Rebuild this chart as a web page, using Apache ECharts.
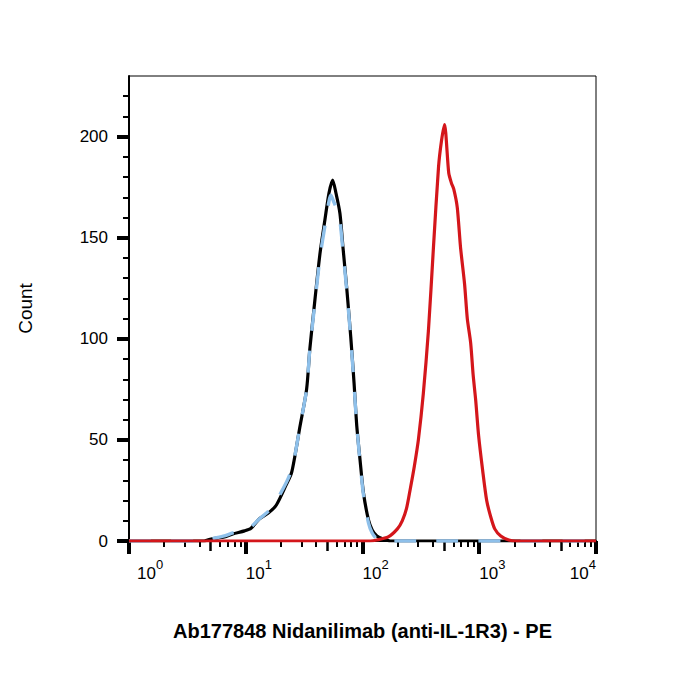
<!DOCTYPE html>
<html><head><meta charset="utf-8">
<script src="https://cdn.jsdelivr.net/npm/echarts@6/dist/echarts.min.js"></script>
<style>html,body{margin:0;padding:0;background:#fff}#c{width:700px;height:700px}</style>
</head><body><div id="c"></div>
<script>
// Isotype / unstained control (black solid)
const blackX = [1, 4.4, 5.05, 6.57, 7.74, 9.77, 11.1, 13.1, 15.5, 18.3, 22.3, 24.6, 26.3, 29.0, 33.2, 35.4, 37.8, 43.2, 47.7, 51.6, 55.5, 59.3, 64.1, 68.1, 73.3, 79.3, 84.7, 89.3, 95.3, 101.8, 112.5, 121, 132.8, 150.4, 173, 10000];
const blackY = [0, 0, 1, 2, 3.5, 5, 6.3, 11, 13.7, 17.8, 28, 33.5, 41.7, 56, 75, 95, 111, 142, 159, 172, 178.5, 172, 162, 145, 125, 101, 78, 57, 40, 24, 10.4, 5.5, 2.5, 1, 0, 0];
// Second control (light blue dashed)
const blueX = [1, 4.4, 5.05, 6.57, 7.74, 9.77, 11.1, 13.1, 15.5, 18.3, 22.3, 24.6, 26.3, 29.0, 33.2, 35.4, 37.8, 43.2, 47.7, 51.6, 53.5, 56.5, 59.3, 64.1, 68.1, 73.3, 79.3, 84.7, 89.3, 95.3, 101.8, 112.5, 121, 132.8, 150.4, 10000];
const blueY = [0, 0, 1, 2.5, 4, 5.5, 7, 11, 14.5, 20, 29, 35, 42, 56, 75, 95, 110, 140, 156, 168, 171, 168, 165, 158, 143, 124, 100, 77, 57, 39, 23, 9, 4, 1, 0, 0];
// Nidanilimab stained (red)
const redX = [1, 116, 133, 166, 199, 219, 238, 257, 278, 301, 332, 367, 405, 448, 475, 504, 548, 578, 605, 648, 692, 749, 790, 844, 887, 931, 988, 1069, 1158, 1253, 1357, 1528, 1791, 2056, 10000];
const redY = [0, 0, 0.5, 2, 6, 10, 16, 26, 37, 50, 73, 104, 145, 185, 198, 206, 182, 177, 174, 165, 145, 127, 110, 98, 82, 70, 52, 35, 20, 12, 6, 2.5, 0.5, 0, 0];

const xTickExps = ['0', '1', '2', '3', '4'];
const yTickValues = [0, 50, 100, 150, 200];
const yMinorValues = [10, 20, 30, 40, 60, 70, 80, 90, 110, 120, 130, 140, 160, 170, 180, 190, 210, 220];
const xMinorMult = [2, 3, 4, 6, 7, 8, 9];
const xMidMult = [5];
const decades = [1, 10, 100, 1000];

const xMinorLog = [];
decades.forEach(d => xMinorMult.forEach(m => xMinorLog.push(Math.log10(m * d))));
const xMidLog = [];
decades.forEach(d => xMidMult.forEach(m => xMidLog.push(Math.log10(m * d))));

const pairs = (xs, ys) => xs.map((x, i) => [x, ys[i]]);
const FONT = 'Liberation Sans, Arial, sans-serif';

const chart = echarts.init(document.getElementById('c'), null, {renderer: 'svg'});
chart.setOption({
  animation: false,
  backgroundColor: '#fff',
  grid: {left: 129, right: 104, top: 76, bottom: 159, show: true, borderColor: '#000', borderWidth: 1, backgroundColor: 'transparent'},
  xAxis: [
    {
      type: 'log', logBase: 10, min: 1, max: 10000, position: 'bottom',
      name: 'Ab177848 Nidanilimab (anti-IL-1R3) - PE', nameLocation: 'middle', nameGap: 80,
      nameTextStyle: {fontFamily: FONT, fontSize: 20, fontWeight: 'bold', color: '#000'},
      axisLine: {show: true, lineStyle: {color: '#000', width: 2}},
      axisTick: {show: true, inside: false, length: 13, lineStyle: {color: '#000', width: 4}},
      minorTick: {show: false},
      splitLine: {show: false},
      axisLabel: {
        margin: 17, align: 'left', alignMaxLabel: 'right', fontSize: 16, fontFamily: FONT, color: '#000',
        formatter: (v, i) => {
          const e = xTickExps[Math.round(Math.log10(v))];
          return (e === '0' ? '{b0|10}' : '{b|10}') + '{s|' + e + '}';
        },
        rich: {
          b: {fontFamily: FONT, fontSize: 17, color: '#000', verticalAlign: 'bottom', lineHeight: 24},
          b0: {fontFamily: FONT, fontSize: 17, color: '#000', verticalAlign: 'bottom', lineHeight: 24, padding: [0, 0, 0, 8]},
          s: {fontFamily: FONT, fontSize: 13, color: '#000', verticalAlign: 'top', lineHeight: 24}
        }
      }
    },
    {
      type: 'value', min: 0, max: 4, position: 'bottom', gridIndex: 0,
      axisLine: {show: false}, axisLabel: {show: false}, splitLine: {show: false},
      axisTick: {show: true, customValues: xMinorLog, length: 6, lineStyle: {color: '#000', width: 2}}
    },
    {
      type: 'value', min: 0, max: 4, position: 'bottom', gridIndex: 0,
      axisLine: {show: false}, axisLabel: {show: false}, splitLine: {show: false},
      axisTick: {show: true, customValues: xMidLog, length: 10, lineStyle: {color: '#000', width: 2.5}}
    }
  ],
  yAxis: [
    {
      type: 'value', min: 0, max: 230, interval: 50, position: 'left',
      name: 'Count', nameLocation: 'middle', nameGap: 94, nameRotate: 90,
      nameTextStyle: {fontFamily: FONT, fontSize: 19, color: '#000'},
      axisLine: {show: true, lineStyle: {color: '#000', width: 2}},
      axisTick: {show: true, customValues: yTickValues, length: 12, lineStyle: {color: '#000', width: 4}},
      axisLabel: {customValues: yTickValues, margin: 21, fontFamily: FONT, fontSize: 17, color: '#000'},
      splitLine: {show: false}
    },
    {
      type: 'value', min: 0, max: 230, position: 'left',
      axisLine: {show: false}, axisLabel: {show: false}, splitLine: {show: false},
      axisTick: {show: true, customValues: yMinorValues, length: 6, lineStyle: {color: '#000', width: 2}}
    }
  ],
  series: [
    {type: 'line', name: 'control', data: pairs(blackX, blackY), showSymbol: false, symbol: 'none', smooth: 0.25,
     lineStyle: {color: '#000', width: 3.2}},
    {type: 'line', name: 'control 2', data: pairs(blueX, blueY), showSymbol: false, symbol: 'none', smooth: 0.25,
     lineStyle: {color: '#8EC0EA', width: 3.4, type: [22, 20]}},
    {type: 'line', name: 'Nidanilimab', data: pairs(redX, redY), showSymbol: false, symbol: 'none', smooth: 0.25,
     lineStyle: {color: '#D4161B', width: 3.2}}
  ]
});
</script>
</body></html>
